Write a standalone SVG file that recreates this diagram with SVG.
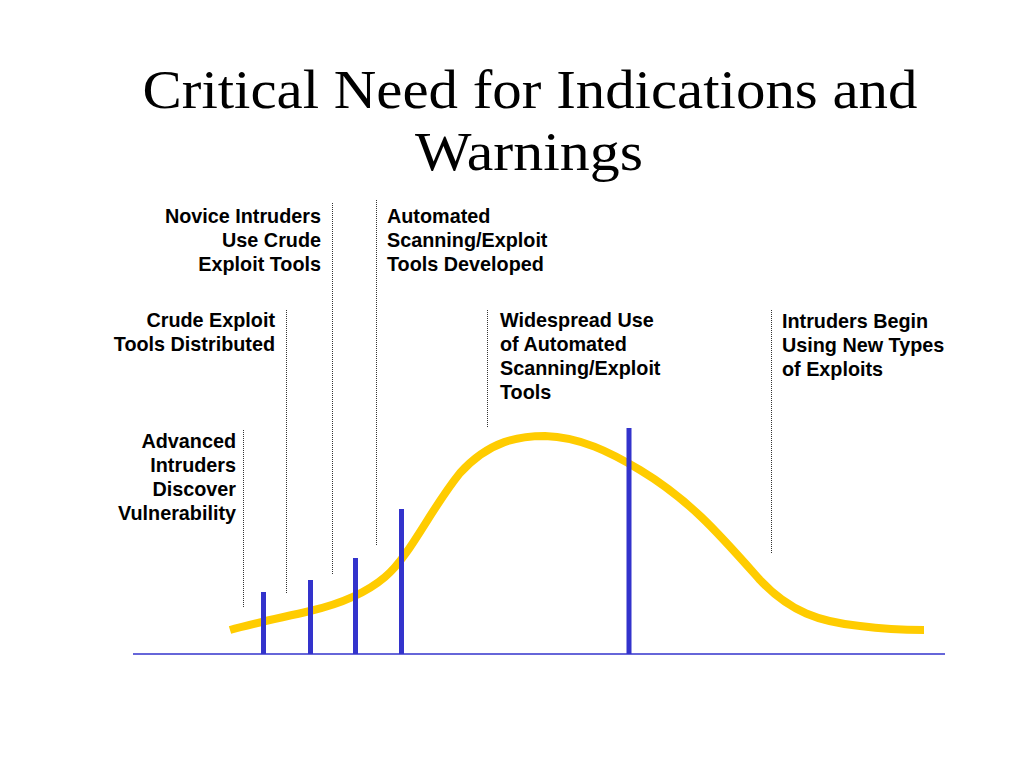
<svg xmlns="http://www.w3.org/2000/svg" width="1024" height="768" viewBox="0 0 1024 768">
<style>
.title{font-family:"Liberation Serif",serif;font-size:54px;fill:#000;text-anchor:middle}
.lbl{font-family:"Liberation Sans",Arial,sans-serif;font-size:19.8px;font-weight:bold;fill:#000}
.r{text-anchor:end}
.dot{stroke:#333;stroke-width:1;stroke-dasharray:1 1;fill:none}
.bar{stroke:#3333cc;stroke-width:5}
</style>
<rect width="1024" height="768" fill="#fff"/>
<g id="title">
<text class="title" x="530" y="108" textLength="775" lengthAdjust="spacingAndGlyphs">Critical Need for Indications and</text>
<text class="title" x="529" y="170" textLength="228" lengthAdjust="spacingAndGlyphs">Warnings</text>
</g>
<g id="axis"><line x1="133" y1="654" x2="945" y2="654" stroke="#3333cc" stroke-width="1.5"/></g>
<g id="curve"><path d="M230,630 C250,624 280,618 310,611 C340,604 365,594 385,577 C410,556 430,510 460,473 C490,440 520,436 545,436 C580,437 610,452 640,470 C690,500 720,535 760,580 C790,612 820,622 860,626 C890,630 905,630 924,630" fill="none" stroke="#ffcc00" stroke-width="8"/></g>
<g id="connectors">
<line class="dot" x1="243.5" y1="430" x2="243.5" y2="607"/>
<line class="dot" x1="286.5" y1="310" x2="286.5" y2="593"/>
<line class="dot" x1="332.5" y1="203" x2="332.5" y2="575"/>
<line class="dot" x1="376.5" y1="200" x2="376.5" y2="545"/>
<line class="dot" x1="487.5" y1="310" x2="487.5" y2="427"/>
<line class="dot" x1="771.5" y1="310" x2="771.5" y2="553"/>
</g>
<g id="bars">
<line class="bar" x1="263.5" y1="592" x2="263.5" y2="654"/>
<line class="bar" x1="310.5" y1="580" x2="310.5" y2="654"/>
<line class="bar" x1="355.5" y1="558" x2="355.5" y2="654"/>
<line class="bar" x1="401.5" y1="509" x2="401.5" y2="654"/>
<line class="bar" x1="629" y1="428" x2="629" y2="654"/>
</g>
<g id="advanced"><text class="lbl r" x="236" y="448">Advanced</text><text class="lbl r" x="236" y="472">Intruders</text><text class="lbl r" x="236" y="496">Discover</text><text class="lbl r" x="236" y="520">Vulnerability</text></g>
<g id="crude"><text class="lbl r" x="275" y="327">Crude Exploit</text><text class="lbl r" x="275" y="351">Tools Distributed</text></g>
<g id="novice"><text class="lbl r" x="321" y="223">Novice Intruders</text><text class="lbl r" x="321" y="247">Use Crude</text><text class="lbl r" x="321" y="271">Exploit Tools</text></g>
<g id="automated"><text class="lbl" x="387" y="223">Automated</text><text class="lbl" x="387" y="247">Scanning/Exploit</text><text class="lbl" x="387" y="271">Tools Developed</text></g>
<g id="widespread"><text class="lbl" x="500" y="327">Widespread Use</text><text class="lbl" x="500" y="351">of Automated</text><text class="lbl" x="500" y="375">Scanning/Exploit</text><text class="lbl" x="500" y="399">Tools</text></g>
<g id="newtypes"><text class="lbl" x="782" y="328">Intruders Begin</text><text class="lbl" x="782" y="352">Using New Types</text><text class="lbl" x="782" y="376">of Exploits</text></g>
</svg>
